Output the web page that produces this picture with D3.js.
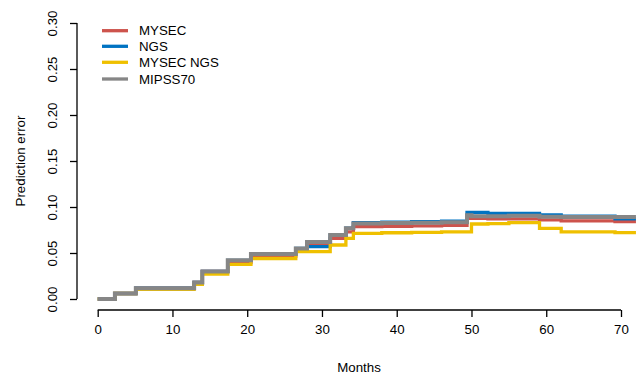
<!DOCTYPE html>
<html>
<head>
<meta charset="utf-8">
<script src="https://cdn.jsdelivr.net/npm/d3@7"></script>
<style>
  html, body { margin: 0; padding: 0; background: #fff; }
  svg { display: block; }
  text { font-family: "Liberation Sans", Arial, sans-serif; fill: #000; }
</style>
</head>
<body>
<div id="chart"></div>
<script>
// ---- data (step functions: value holds from times[i] to times[i+1]) ----
const times   = [0, 2.3, 5.1, 12.9, 14.0, 17.4, 20.5, 26.5, 28.0, 31.1, 33.2, 34.2, 38, 42, 46, 49.4, 50.0, 52.2, 55, 59.1, 62.0, 66, 69.2, 72];
const mysec    = [0, 0.006, 0.0118, 0.018, 0.030, 0.0395, 0.0467, 0.054, 0.060, 0.066, 0.073, 0.0786, 0.079, 0.0795, 0.080, 0.0877, 0.0877, 0.087, 0.087, 0.086, 0.085, 0.085, 0.084, 0.084];
const ngs      = [0, 0.006, 0.0118, 0.018, 0.030, 0.042, 0.049, 0.055, 0.057, 0.0695, 0.077, 0.083, 0.0835, 0.084, 0.0845, 0.094, 0.094, 0.093, 0.093, 0.0915, 0.090, 0.090, 0.087, 0.087];
const mysecNgs = [0, 0.006, 0.0105, 0.016, 0.027, 0.0377, 0.044, 0.0515, 0.0515, 0.0587, 0.066, 0.0714, 0.072, 0.0725, 0.073, 0.073, 0.0815, 0.082, 0.083, 0.0768, 0.073, 0.073, 0.0722, 0.0722];
const mipss70  = [0, 0.006, 0.0118, 0.018, 0.030, 0.042, 0.049, 0.055, 0.062, 0.0695, 0.077, 0.082, 0.0825, 0.083, 0.0835, 0.091, 0.090, 0.090, 0.0905, 0.0895, 0.089, 0.089, 0.089, 0.089];
const seriesNames = ["MYSEC", "NGS", "MYSEC NGS", "MIPSS70"];
const seriesColors = ["#CD534C", "#0073C2", "#EFC000", "#868686"];
const xTicks = [0, 10, 20, 30, 40, 50, 60, 70];
const yTicks = [0.00, 0.05, 0.10, 0.15, 0.20, 0.25, 0.30];

const W = 638, H = 378;
const svg = d3.select("#chart").append("svg").attr("width", W).attr("height", H);

const x = d3.scaleLinear().domain([0, 70]).range([97.7, 621]);
const y = d3.scaleLinear().domain([0, 0.30]).range([299, 23]);

const seriesVals = [mysec, ngs, mysecNgs, mipss70];
const line = d3.line().x(d => x(d[0])).y(d => y(d[1])).curve(d3.curveStepAfter);

seriesVals.forEach((vals, i) => {
  const pts = times.map((t, j) => [t, vals[j]]);
  svg.append("path")
    .attr("d", line(pts))
    .attr("fill", "none")
    .attr("stroke", seriesColors[i])
    .attr("stroke-width", i === 3 ? 4 : 3.3);
});

// axes
const fs = "13.3px";
const xAxis = d3.axisBottom(x).tickValues(xTicks).tickSize(7).tickPadding(6).tickFormat(d3.format("d"));
const gx = svg.append("g").attr("transform", "translate(0,310)").call(xAxis);
gx.select(".domain").attr("stroke", "#000").attr("stroke-width", 1.3).attr("d", `M${x(0)},0H${x(70)}`);
gx.selectAll(".tick line").attr("stroke", "#000").attr("stroke-width", 1.3);
gx.selectAll(".tick text").style("font-size", fs).style("font-family", "Liberation Sans, Arial, sans-serif").attr("fill", "#000").attr("dy", "0.71em").attr("y", 15);

const yAxis = d3.axisLeft(y).tickValues(yTicks).tickSize(7).tickFormat(d3.format(".2f"));
const gy = svg.append("g").attr("transform", "translate(77,0)").call(yAxis);
gy.select(".domain").attr("stroke", "#000").attr("stroke-width", 1.3).attr("d", `M0,${y(0)}V${y(0.30)}`);
gy.selectAll(".tick line").attr("stroke", "#000").attr("stroke-width", 1.3);
gy.selectAll(".tick text")
  .style("font-size", fs).style("font-family", "Liberation Sans, Arial, sans-serif").attr("fill", "#000")
  .attr("x", null).attr("dy", null)
  .attr("transform", "translate(-20.5,0) rotate(-90)")
  .attr("text-anchor", "middle").attr("y", 0);

// axis titles
svg.append("text").attr("x", 359).attr("y", 372).attr("text-anchor", "middle").style("font-size", fs).text("Months");
svg.append("text").attr("transform", "translate(24.5,161) rotate(-90)").attr("text-anchor", "middle").style("font-size", fs).text("Prediction error");

// legend
const legY = [30.7, 46.3, 62.3, 79];
seriesNames.forEach((name, i) => {
  svg.append("line").attr("x1", 102).attr("x2", 128).attr("y1", legY[i]).attr("y2", legY[i])
    .attr("stroke", seriesColors[i]).attr("stroke-width", 3.3);
  svg.append("text").attr("x", 139).attr("y", legY[i] + 4.7).style("font-size", fs).text(name);
});
</script>
</body>
</html>
